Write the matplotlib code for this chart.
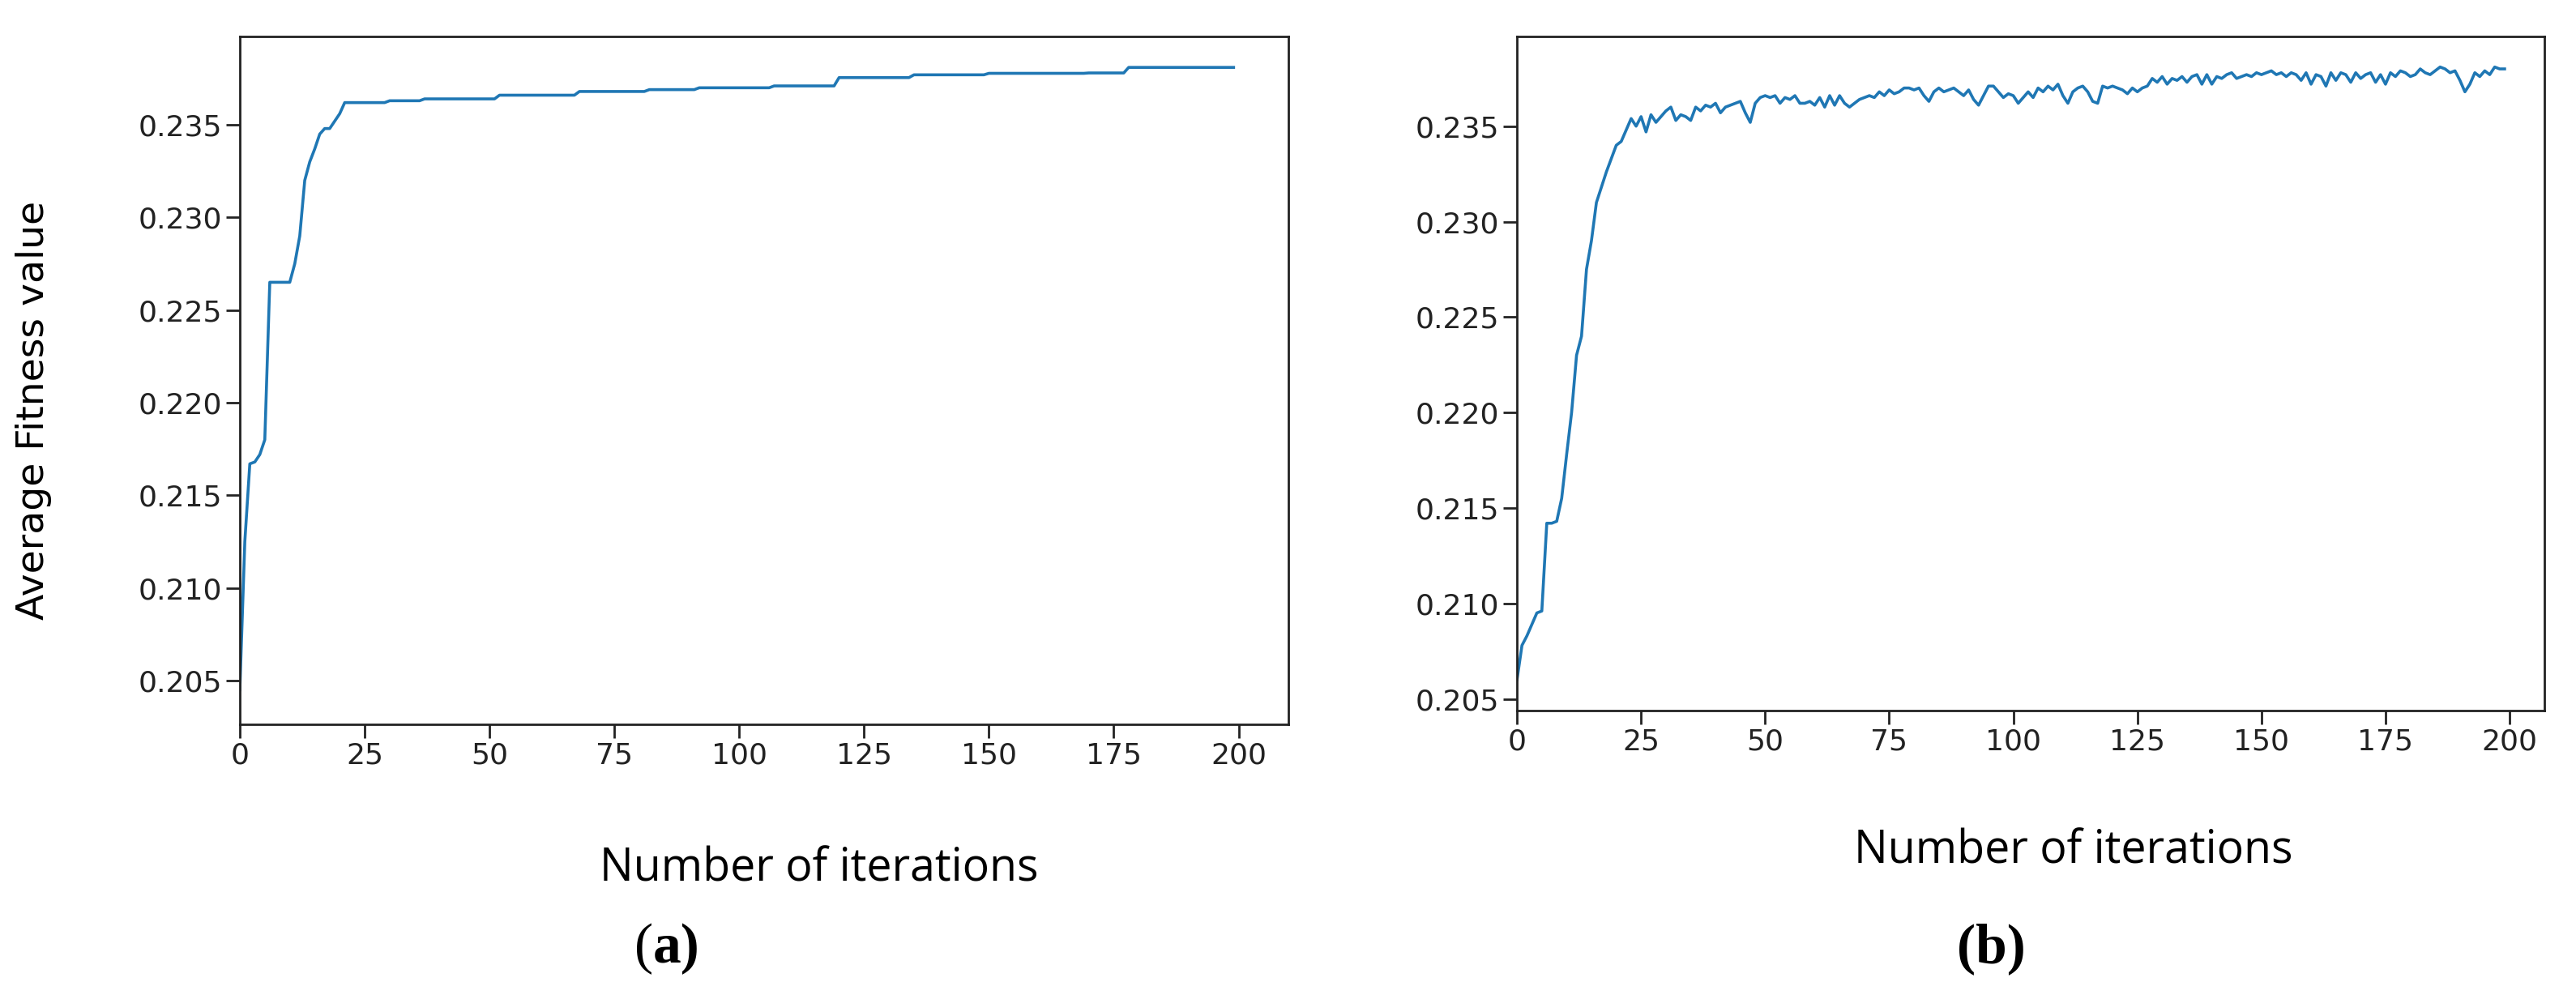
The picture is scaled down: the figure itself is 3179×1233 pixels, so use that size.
import numpy as np
import matplotlib.pyplot as plt

# (a) stepwise average fitness: iteration where each level starts, and the level
a_starts = [0, 1, 2, 3, 4, 5, 6, 11, 12, 13, 14, 15, 16, 17, 19, 20, 21,
            30, 37, 52, 68, 82, 92, 107, 120, 135, 150, 170, 178]
a_levels = [0.2045, 0.2125, 0.2167, 0.2168, 0.2172, 0.2180, 0.2265, 0.2275,
            0.2290, 0.2320, 0.2330, 0.2337, 0.2345, 0.2348, 0.2352, 0.2356,
            0.2362, 0.2363, 0.2364, 0.2366, 0.2368, 0.2369, 0.2370, 0.2371,
            0.23755, 0.2377, 0.23778, 0.2378, 0.2381]

# (b) noisy average fitness per iteration
b_vals = [
    .2060, .2078, .2083, .2089, .2095, .2096, .2142, .2142, .2143, .2155,
    .2178, .2200, .2230, .2240, .2275, .2290, .2310, .2318, .2326, .2333,
    .2340, .2342, .2348, .2354, .2350, .2355, .2347, .2356, .2352, .2355,
    .2358, .2360, .2353, .2356, .2355, .2353, .2360, .2358, .2361, .2360,
    .2362, .2357, .2360, .2361, .2362, .2363, .2357, .2352, .2362, .2365,
    .2366, .2365, .2366, .2362, .2365, .2364, .2366, .2362, .2362, .2363,
    .2361, .2365, .2360, .2366, .2361, .2366, .2362, .2360, .2362, .2364,
    .2365, .2366, .2365, .2368, .2366, .2369, .2367, .2368, .2370, .2370,
    .2369, .2370, .2366, .2363, .2368, .2370, .2368, .2369, .2370, .2368,
    .2366, .2369, .2364, .2361, .2366, .2371, .2371, .2368, .2365, .2367,
    .2366, .2362, .2365, .2368, .2365, .2370, .2368, .2371, .2369, .2372,
    .2366, .2362, .2368, .2370, .2371, .2368, .2363, .2362, .2371, .2370,
    .2371, .2370, .2369, .2367, .2370, .2368, .2370, .2371, .2375, .2373,
    .2376, .2372, .2375, .2374, .2376, .2373, .2376, .2377, .2372, .2377,
    .2372, .2376, .2375, .2377, .2378, .2375, .2376, .2377, .2376, .2378,
    .2377, .2378, .2379, .2377, .2378, .2376, .2378, .2377, .2374, .2378,
    .2372, .2377, .2376, .2371, .2378, .2374, .2378, .2377, .2373, .2378,
    .2375, .2377, .2378, .2373, .2377, .2372, .2378, .2376, .2379, .2378,
    .2376, .2377, .2380, .2378, .2377, .2379, .2381, .2380, .2378, .2379,
    .2374, .2368, .2372, .2378, .2376, .2379, .2377, .2381, .2380, .2380,
]

n_iter = 200
x_ticks = [0, 25, 50, 75, 100, 125, 150, 175, 200]
y_ticks = [0.205, 0.210, 0.215, 0.220, 0.225, 0.230, 0.235]

counts = np.diff(a_starts + [n_iter])
a_vals = np.repeat(a_levels, counts)

fig = plt.figure(figsize=(31.79, 12.33), dpi=100)
ax1 = fig.add_axes([0.0931, 0.275, 0.4071, 0.6885])
ax2 = fig.add_axes([0.5889, 0.289, 0.3988, 0.6745])

for ax, y, ylim, xmax in [(ax1, a_vals, (0.20264, 0.23977), 210),
                          (ax2, b_vals, (0.2044, 0.2397), 207)]:
    ax.plot(np.arange(n_iter), y, color='#1f77b4', lw=2.6)
    ax.set_xlim(0, xmax)
    ax.set_ylim(*ylim)
    ax.set_xticks(x_ticks)
    ax.set_yticks(y_ticks)
    ax.set_yticklabels([f'{v:.3f}' for v in y_ticks])
    ax.tick_params(labelsize=26, length=12, width=2, colors='#222222')
    for s in ax.spines.values():
        s.set_linewidth(2)
        s.set_color('#222222')

fig.text(0.013, 0.589, 'Average Fitness value', rotation=90, fontsize=34,
         ha='center', va='center')
fig.text(0.318, 0.130, 'Number of iterations', fontsize=40, family='Open Sans',
         ha='center', va='center')
fig.text(0.805, 0.148, 'Number of iterations', fontsize=40, family='Open Sans',
         ha='center', va='center')
fig.text(0.2535, 0.050, '(', fontsize=50, family='Liberation Serif', ha='right', va='center')
fig.text(0.2535, 0.050, 'a)', fontsize=50, family='Liberation Serif', ha='left', va='center',
         fontweight='bold')
fig.text(0.773, 0.050, '(b)', fontsize=50, family='Liberation Serif', ha='center',
         va='center', fontweight='bold')

fig.savefig('out.png', dpi=100)
